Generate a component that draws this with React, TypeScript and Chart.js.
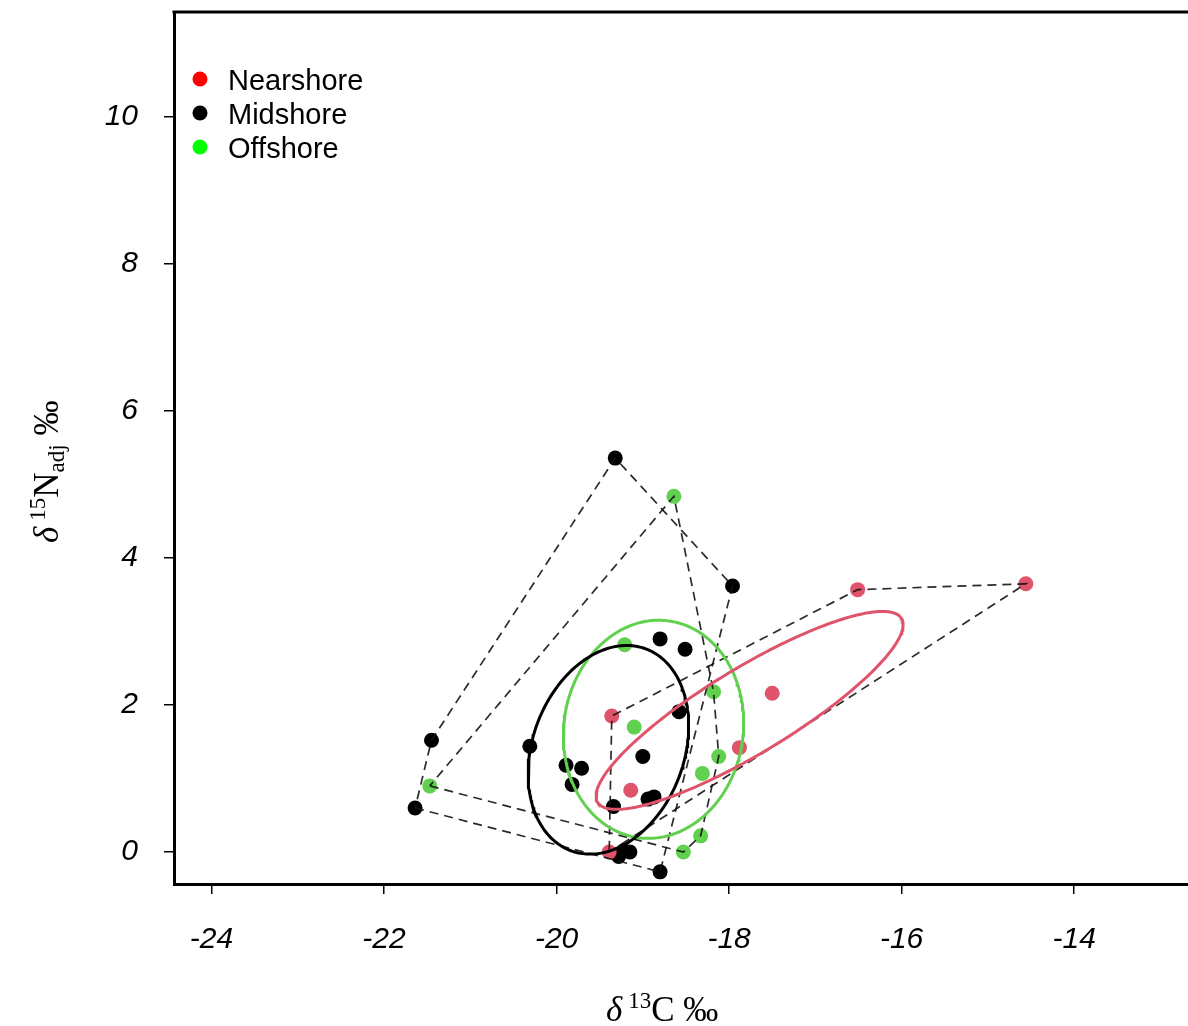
import React, { useEffect, useRef } from "react";
import { Chart, registerables } from "chart.js";

Chart.register(...registerables);

// ---------- data ----------
const groups = ["Nearshore", "Midshore", "Offshore"];
const pointColors = ["#DF536B", "#000000", "#61D04F"];
const legendColors = ["#FF0000", "#000000", "#00FF00"];

const nearshoreC = [-14.56, -16.51, -17.50, -17.88, -19.36, -19.14, -19.39];
const nearshoreN = [3.65, 3.57, 2.16, 1.42, 1.85, 0.84, 0.0];

const midshoreC = [-19.32, -17.96, -21.45, -21.64, -20.31, -18.80, -18.51, -18.58, -19.89, -19.71,
  -19.82, -19.00, -18.94, -18.87, -19.34, -19.28, -19.15, -19.22, -18.80];
const midshoreN = [5.36, 3.62, 1.52, 0.60, 1.44, 2.90, 2.76, 1.91, 1.18, 1.14,
  0.92, 1.30, 0.72, 0.75, 0.62, -0.06, 0.00, 0.02, -0.27];

const offshoreC = [-18.64, -19.21, -18.18, -19.10, -18.12, -18.31, -18.33, -18.53, -21.47];
const offshoreN = [4.84, 2.82, 2.18, 1.70, 1.30, 1.07, 0.22, 0.00, 0.90];

const xTicks = [-24, -22, -20, -18, -16, -14];
const yTicks = [0, 2, 4, 6, 8, 10];
const xRange = [-24.435, -12.68];
const yRange = [-0.435, 11.43];

// ---------- helpers ----------
type P = { x: number; y: number };

function toPoints(xs: number[], ys: number[]): P[] {
  return xs.map((x, i) => ({ x, y: ys[i] }));
}

function convexHull(p: P[]): P[] {
  const pts = p.slice().sort((a, b) => a.x - b.x || a.y - b.y);
  const cross = (o: P, a: P, b: P) => (a.x - o.x) * (b.y - o.y) - (a.y - o.y) * (b.x - o.x);
  const lower: P[] = [];
  for (const q of pts) {
    while (lower.length >= 2 && cross(lower[lower.length - 2], lower[lower.length - 1], q) <= 0) lower.pop();
    lower.push(q);
  }
  const upper: P[] = [];
  for (const q of pts.slice().reverse()) {
    while (upper.length >= 2 && cross(upper[upper.length - 2], upper[upper.length - 1], q) <= 0) upper.pop();
    upper.push(q);
  }
  upper.pop();
  lower.pop();
  const h = lower.concat(upper);
  h.push(h[0]);
  return h;
}

function standardEllipse(p: P[], steps = 240): P[] {
  const n = p.length;
  const mx = p.reduce((s, q) => s + q.x, 0) / n;
  const my = p.reduce((s, q) => s + q.y, 0) / n;
  let sxx = 0, syy = 0, sxy = 0;
  for (const q of p) {
    sxx += (q.x - mx) ** 2;
    syy += (q.y - my) ** 2;
    sxy += (q.x - mx) * (q.y - my);
  }
  sxx /= n - 1; syy /= n - 1; sxy /= n - 1;
  const tr = sxx + syy;
  const det = sxx * syy - sxy * sxy;
  const disc = Math.sqrt(Math.max(0, (tr * tr) / 4 - det));
  const l1 = tr / 2 + disc;
  const l2 = tr / 2 - disc;
  const th = 0.5 * Math.atan2(2 * sxy, sxx - syy);
  const a = Math.sqrt(l1), b = Math.sqrt(Math.max(0, l2));
  const out: P[] = [];
  for (let i = 0; i <= steps; i++) {
    const t = (i / steps) * Math.PI * 2;
    out.push({
      x: mx + a * Math.cos(t) * Math.cos(th) - b * Math.sin(t) * Math.sin(th),
      y: my + a * Math.cos(t) * Math.sin(th) + b * Math.sin(t) * Math.cos(th),
    });
  }
  return out;
}

type Seg = { text: string; font: string; dy?: number; gap?: number };
function drawRich(ctx: CanvasRenderingContext2D, segs: Seg[], x: number, y: number) {
  let cx = x;
  for (const s of segs) {
    ctx.font = s.font;
    ctx.fillText(s.text, cx, y + (s.dy || 0));
    cx += ctx.measureText(s.text).width + (s.gap || 0);
  }
}

const SERIF = "'Liberation Serif', 'Times New Roman', serif";
const SANS = "'Liberation Sans', Arial, sans-serif";

const decorPlugin = {
  id: "decor",
  afterLayout(chart: any) {
    // let the plot region run to the right edge of the canvas (frame is cut off there)
    const ca = chart.chartArea;
    const xs = chart.scales.x;
    ca.right = chart.width;
    ca.width = ca.right - ca.left;
    xs.right = chart.width;
    xs.width = xs.right - xs.left;
    xs.configure();
  },
  afterDatasetsDraw(chart: any) {
    const ctx: CanvasRenderingContext2D = chart.ctx;
    const ca = chart.chartArea;
    ctx.save();
    // top frame line
    ctx.strokeStyle = "#000";
    ctx.lineWidth = 3;
    ctx.beginPath();
    ctx.moveTo(ca.left - 1.5, ca.top);
    ctx.lineTo(chart.width, ca.top);
    ctx.stroke();

    // legend
    ctx.textBaseline = "alphabetic";
    ctx.textAlign = "left";
    groups.forEach((g, i) => {
      const cy = 79 + i * 34;
      ctx.fillStyle = legendColors[i];
      ctx.beginPath();
      ctx.arc(200, cy, 7.5, 0, Math.PI * 2);
      ctx.fill();
      ctx.fillStyle = "#000";
      ctx.font = `29px ${SANS}`;
      ctx.fillText(g, 228, cy + 11);
    });

    // x title
    ctx.fillStyle = "#000";
    drawRich(ctx, [
      { text: "\u03B4", font: `italic 35px ${SERIF}`, gap: 6 },
      { text: "13", font: `23px ${SERIF}`, dy: -13 },
      { text: "C \u2030", font: `35px ${SERIF}` },
    ], 606, 1021);

    // y title (rotated)
    ctx.translate(58, 543);
    ctx.rotate(-Math.PI / 2);
    drawRich(ctx, [
      { text: "\u03B4", font: `italic 35px ${SERIF}`, gap: 6 },
      { text: "15", font: `23px ${SERIF}`, dy: -13 },
      { text: "N", font: `35px ${SERIF}` },
      { text: "adj", font: `23px ${SERIF}`, dy: 6 },
      { text: " \u2030", font: `35px ${SERIF}` },
    ], 0, 0);
    ctx.restore();
  },
};

export default function App() {
  const ref = useRef<HTMLCanvasElement | null>(null);

  useEffect(() => {
    if (!ref.current) return;
    const sets = [
      toPoints(nearshoreC, nearshoreN),
      toPoints(midshoreC, midshoreN),
      toPoints(offshoreC, offshoreN),
    ];
    const datasets: any[] = [];
    sets.forEach((pts, i) => {
      datasets.push({
        label: groups[i],
        data: pts,
        pointRadius: 7.5,
        pointHoverRadius: 7.5,
        backgroundColor: pointColors[i],
        borderWidth: 0,
        order: 3,
      });
    });
    sets.forEach((pts, i) => {
      datasets.push({
        label: groups[i] + " hull",
        data: convexHull(pts),
        showLine: true,
        pointRadius: 0,
        borderColor: "rgba(20,20,20,0.9)",
        borderWidth: 1.7,
        borderDash: [9, 6],
        fill: false,
        tension: 0,
        order: 2,
      });
    });
    sets.forEach((pts, i) => {
      datasets.push({
        label: groups[i] + " ellipse",
        data: standardEllipse(pts),
        showLine: true,
        pointRadius: 0,
        borderColor: pointColors[i],
        borderWidth: 3,
        fill: false,
        tension: 0,
        order: 1,
      });
    });

    const tickFont = { family: SANS, size: 30, style: "italic" as const };
    const chart = new Chart(ref.current, {
      type: "scatter",
      data: { datasets },
      options: {
        responsive: false,
        animation: false,
        devicePixelRatio: 1,
        layout: { padding: { top: 12, left: 0, right: 0, bottom: 0 } },
        plugins: { legend: { display: false }, tooltip: { enabled: false } },
        scales: {
          x: {
            type: "linear",
            min: xRange[0],
            max: xRange[1],
            afterBuildTicks: (s: any) => { s.ticks = xTicks.map((v) => ({ value: v })); },
            afterFit: (s: any) => {
              s.height = 142;
              s.paddingLeft = 0; s.paddingRight = 0; s.paddingTop = 0; s.paddingBottom = 0;
            },
            ticks: { font: tickFont, color: "#000", padding: 28, callback: (v: any) => String(v) },
            grid: { display: true, drawOnChartArea: false, drawTicks: true, tickLength: 10, color: "#000", lineWidth: 1.5 },
            border: { display: true, width: 3, color: "#000" },
          },
          y: {
            type: "linear",
            min: yRange[0],
            max: yRange[1],
            afterBuildTicks: (s: any) => { s.ticks = yTicks.map((v) => ({ value: v })); },
            afterFit: (s: any) => {
              s.width = 174;
              s.paddingLeft = 0; s.paddingRight = 0; s.paddingTop = 0; s.paddingBottom = 0;
            },
            ticks: { font: tickFont, color: "#000", padding: 26, callback: (v: any) => String(v) },
            grid: { display: true, drawOnChartArea: false, drawTicks: true, tickLength: 10, color: "#000", lineWidth: 1.5 },
            border: { display: true, width: 3, color: "#000" },
          },
        },
      },
      plugins: [decorPlugin],
    });
    return () => chart.destroy();
  }, []);

  return (
    <div style={{ position: "absolute", left: 0, top: 0, width: 1188, height: 1026, background: "#fff" }}>
      <canvas ref={ref} width={1188} height={1026} style={{ display: "block" }} />
    </div>
  );
}
